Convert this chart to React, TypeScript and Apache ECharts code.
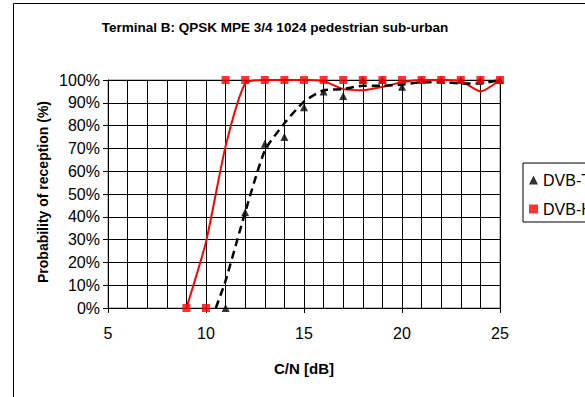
import React, { useEffect, useRef } from "react";
import * as echarts from "echarts";

const titleText = "Terminal B: QPSK MPE 3/4 1024 pedestrian sub-urban";
const xAxisTitle = "C/N [dB]";
const yAxisTitle = "Probability of reception (%)";

// Measured points (markers)
const dvbTX = [11, 12, 13, 14, 15, 16, 17, 18, 19, 20, 21, 22, 23, 24, 25];
const dvbTY = [0, 42, 72, 75, 88, 95, 93, 100, 100, 97, 100, 100, 100, 100, 100];
const dvbHX = [9, 10, 11, 12, 13, 14, 15, 16, 17, 18, 19, 20, 21, 22, 23, 24, 25];
const dvbHY = [0, 0, 100, 100, 100, 100, 100, 100, 100, 100, 100, 100, 100, 100, 100, 100, 100];

// Smoothed curves (no markers, not in legend)
const curveHX = [9, 10, 11, 12, 13, 14, 15, 16, 17, 18, 19, 20, 21, 22, 23, 24, 25];
const curveHY = [0, 29, 71, 98.5, 100, 100, 100, 99.5, 96, 95.5, 97, 99, 100, 100, 99.5, 95, 100];
const curveTX = [10.5, 11, 12, 13, 14, 15, 16, 17, 18, 19, 20, 21, 22, 23, 24, 25];
const curveTY = [0, 12, 42, 69, 81, 90.5, 95.5, 96, 97.5, 97.5, 98, 99, 99, 98.5, 98.5, 100];

const xMin = 5;
const xMax = 25;
const xInterval = 5;
const yMin = 0;
const yMax = 100;
const yInterval = 10;

const zip = (xs: number[], ys: number[]) => xs.map((x, i) => [x, ys[i]]);

export default function App() {
  const ref = useRef<HTMLDivElement>(null);
  useEffect(() => {
    if (!ref.current) return;
    const chart = echarts.init(ref.current, null, { renderer: "svg" });
    const font = "'Liberation Sans', Arial, sans-serif";
    chart.setOption({
      animation: false,
      backgroundColor: "#ffffff",
      textStyle: { fontFamily: font },
      grid: { left: 108, top: 80, width: 392, height: 228, containLabel: false, show: true, borderColor: "#808080", borderWidth: 1 },
      xAxis: {
        type: "value",
        min: xMin,
        max: xMax,
        interval: xInterval,
        axisLine: { show: true, onZero: false, lineStyle: { color: "#000", width: 1 } },
        axisTick: { show: true, length: 5, inside: false, lineStyle: { color: "#000" } },
        axisLabel: { color: "#000", fontSize: 16, margin: 17, fontFamily: font },
        splitLine: { show: true, lineStyle: { color: "#000", width: 1 } },
        minorTick: { show: false, splitNumber: 5 },
        minorSplitLine: { show: true, lineStyle: { color: "#000", width: 1 } },
      },
      yAxis: {
        type: "value",
        min: yMin,
        max: yMax,
        interval: yInterval,
        axisLine: { show: true, lineStyle: { color: "#000", width: 1 } },
        axisTick: { show: true, length: 5, inside: false, lineStyle: { color: "#000" } },
        axisLabel: { color: "#000", fontSize: 16, margin: 8, formatter: "{value}%", fontFamily: font },
        splitLine: { show: true, lineStyle: { color: "#000", width: 1 } },
      },
      legend: {
        orient: "vertical",
        left: 523,
        top: 163,
        backgroundColor: "#fff",
        borderColor: "#000",
        borderWidth: 1,
        padding: [9, 30, 5, 6],
        itemGap: 13,
        itemWidth: 9,
        itemHeight: 9,
        textStyle: { fontSize: 16, color: "#000", fontFamily: font },
        data: [
          { name: "DVB-T", icon: "triangle" },
          { name: "DVB-H", icon: "rect" },
        ],
      },
      graphic: [
        {
          type: "rect",
          shape: { x: 13.5, y: 3.5, width: 700, height: 500 },
          style: { fill: "none", stroke: "#000", lineWidth: 1 },
          silent: true,
          z: -10,
        },
        {
          type: "text",
          x: 275,
          y: 27,
          style: {
            text: titleText,
            fontSize: 13.5,
            fontWeight: "bold",
            fontFamily: font,
            fill: "#000",
            textAlign: "center",
            textVerticalAlign: "middle",
          },
        },
        {
          type: "text",
          x: 304,
          y: 368,
          style: {
            text: xAxisTitle,
            fontSize: 15,
            fontWeight: "bold",
            fontFamily: font,
            fill: "#000",
            textAlign: "center",
            textVerticalAlign: "middle",
          },
        },
        {
          type: "text",
          x: 43,
          y: 192,
          rotation: Math.PI / 2,
          style: {
            text: yAxisTitle,
            fontSize: 14,
            fontWeight: "bold",
            fontFamily: font,
            fill: "#000",
            textAlign: "center",
            textVerticalAlign: "middle",
          },
        },
      ],
      series: [
        {
          name: "DVB-H curve",
          type: "line",
          data: zip(curveHX, curveHY),
          smooth: 0.2,
          showSymbol: false,
          symbol: "none",
          lineStyle: { color: "#ff0000", width: 2 },
          z: 2,
        },
        {
          name: "DVB-T curve",
          type: "line",
          data: zip(curveTX, curveTY),
          smooth: 0.2,
          showSymbol: false,
          symbol: "none",
          lineStyle: { color: "#000", width: 2.5, type: [8, 5] },
          z: 3,
        },
        {
          name: "DVB-T",
          type: "scatter",
          data: zip(dvbTX, dvbTY),
          symbol: "triangle",
          symbolSize: 8,
          itemStyle: { color: "#000" },
          z: 4,
        },
        {
          name: "DVB-H",
          type: "scatter",
          data: zip(dvbHX, dvbHY),
          symbol: "rect",
          symbolSize: 8,
          itemStyle: { color: "#ff0000" },
          z: 5,
        },
      ],
    });
    return () => chart.dispose();
  }, []);
  return (
    <div
      ref={ref}
      style={{ position: "fixed", left: 0, top: 0, width: 585, height: 397, background: "#fff" }}
    />
  );
}
